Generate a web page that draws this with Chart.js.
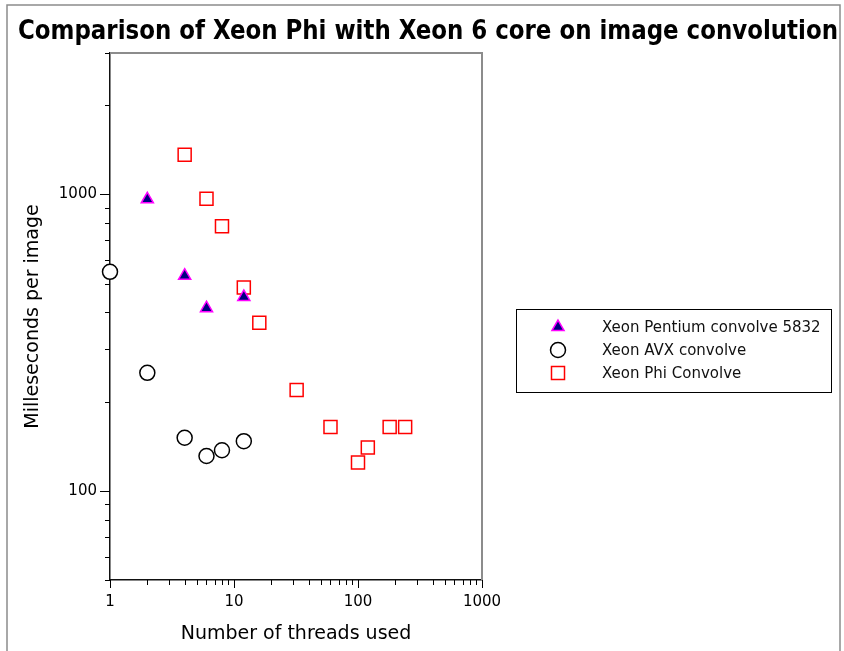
<!DOCTYPE html>
<html>
<head>
<meta charset="utf-8">
<script src="https://cdn.jsdelivr.net/npm/chart.js@4/dist/chart.umd.min.js"></script>
<style>
  html, body { margin: 0; padding: 0; background: #fff; }
  #wrap { width: 844px; height: 651px; position: relative; }
</style>
</head>
<body>
<div id="wrap"><canvas id="chart" width="844" height="651"></canvas></div>
<script>
// chart data
const titleText = "Comparison of Xeon Phi with Xeon 6 core on image convolution";
const seriesNames = ["Xeon Pentium convolve 5832", "Xeon AVX convolve", "Xeon Phi Convolve"];

const threadsPentium = [2, 4, 6, 12];
const msPentium = [963, 532, 413, 451];

const threadsAvx = [1, 2, 4, 6, 8, 12];
const msAvx = [548, 250, 151, 131, 137, 147];

const threadsPhi = [4, 6, 8, 12, 16, 32, 60, 100, 120, 180, 240];
const msPhi = [1360, 967, 781, 485, 369, 219, 164, 124.5, 140, 164, 164];

const xTicks = [1, 2, 3, 4, 5, 6, 7, 8, 9, 10, 20, 30, 40, 50, 60, 70, 80, 90,
  100, 200, 300, 400, 500, 600, 700, 800, 900, 1000];
const yTicks = [50, 60, 70, 80, 90, 100, 200, 300, 400, 500, 600, 700, 800, 900, 1000, 2000, 3000];
const majorLabels = [1, 10, 100, 1000];

const toPoints = (xs, ys) => xs.map((x, i) => ({ x: x, y: ys[i] }));

// frame, title, top/right border, tick marks and boxed legend
const decor = {
  id: "decor",
  afterDraw(chart) {
    const ctx = chart.ctx;
    const a = chart.chartArea;
    ctx.save();

    // outer frame
    ctx.strokeStyle = "#8c8c8c";
    ctx.lineWidth = 1.5;
    ctx.beginPath();
    ctx.moveTo(7, 651); ctx.lineTo(7, 5); ctx.lineTo(840, 5); ctx.lineTo(840, 651);
    ctx.stroke();

    // top and right edges of plot box
    ctx.lineWidth = 2;
    ctx.beginPath();
    ctx.moveTo(a.left, a.top); ctx.lineTo(a.right, a.top); ctx.lineTo(a.right, a.bottom);
    ctx.stroke();

    // title, squeezed into its box
    const size = 26;
    ctx.font = "bold " + size + "px 'DejaVu Sans Condensed', 'DejaVu Sans', sans-serif";
    const w = ctx.measureText(titleText).width;
    ctx.fillStyle = "#000";
    ctx.textBaseline = "alphabetic";
    ctx.textAlign = "left";
    ctx.save();
    ctx.translate(18, 39);
    ctx.scale(820 / w, 1);
    ctx.fillText(titleText, 0, 0);
    ctx.restore();

    // tick marks
    ctx.strokeStyle = "#000";
    ctx.lineWidth = 1;
    const xs = chart.scales.x, ys = chart.scales.y;
    xs.ticks.forEach(t => {
      const px = Math.round(xs.getPixelForValue(t.value)) + 0.5;
      const len = majorLabels.includes(t.value) ? 8 : 5;
      ctx.beginPath(); ctx.moveTo(px, a.bottom); ctx.lineTo(px, a.bottom + len); ctx.stroke();
    });
    ys.ticks.forEach(t => {
      const py = Math.round(ys.getPixelForValue(t.value)) + 0.5;
      const len = [100, 1000].includes(t.value) ? 10 : 5;
      ctx.beginPath(); ctx.moveTo(a.left, py); ctx.lineTo(a.left - len, py); ctx.stroke();
    });

    // legend box
    ctx.lineWidth = 1;
    ctx.strokeStyle = "#000";
    ctx.strokeRect(516.5, 309.5, 315, 83);
    const rows = [327, 350, 373];
    chart.data.datasets.forEach((ds, i) => {
      ctx.fillStyle = ds.pointBackgroundColor;
      ctx.strokeStyle = ds.pointBorderColor;
      ctx.lineWidth = ds.pointBorderWidth;
      Chart.helpers.drawPoint(ctx, {
        pointStyle: ds.pointStyle,
        radius: ds.pointRadius,
        borderWidth: ds.pointBorderWidth,
        rotation: 0
      }, 558, rows[i]);
      ctx.font = "15px 'DejaVu Sans', sans-serif";
      ctx.textBaseline = "middle";
      ctx.textAlign = "left";
      ctx.fillStyle = "#111";
      ctx.fillText(ds.label, 602, rows[i] + 1);
    });
    ctx.restore();
  }
};

new Chart(document.getElementById("chart"), {
  type: "scatter",
  data: {
    datasets: [
      {
        label: seriesNames[0],
        data: toPoints(threadsPentium, msPentium),
        pointStyle: "triangle",
        pointRadius: 7,
        pointBackgroundColor: "#000080",
        pointBorderColor: "#ff00ff",
        pointBorderWidth: 1.5,
        clip: false
      },
      {
        label: seriesNames[1],
        data: toPoints(threadsAvx, msAvx),
        pointStyle: "circle",
        pointRadius: 7.5,
        pointBackgroundColor: "#ffffff",
        pointBorderColor: "#000000",
        pointBorderWidth: 1.5,
        clip: false
      },
      {
        label: seriesNames[2],
        data: toPoints(threadsPhi, msPhi),
        pointStyle: "rect",
        pointRadius: 9.2,
        pointBackgroundColor: "#ffffff",
        pointBorderColor: "#ff0000",
        pointBorderWidth: 1.5,
        clip: false
      }
    ]
  },
  options: {
    responsive: false,
    animation: false,
    events: [],
    layout: { padding: { left: 0, top: 53, right: 362, bottom: 0 } },
    plugins: {
      legend: { display: false },
      title: { display: false },
      tooltip: { enabled: false }
    },
    scales: {
      x: {
        type: "logarithmic",
        min: 1,
        max: 1000,
        afterBuildTicks: (s) => { s.ticks = xTicks.map(v => ({ value: v })); },
        afterFit: (s) => { s.height = 71; },
        grid: { display: false, drawTicks: false },
        border: { display: true, color: "#111", width: 1.5 },
        ticks: {
          autoSkip: false,
          maxRotation: 0,
          padding: 13,
          color: "#000",
          font: { family: "'DejaVu Sans', sans-serif", size: 15 },
          callback: (v) => majorLabels.includes(v) ? String(v) : ""
        },
        title: {
          display: true,
          text: "Number of threads used",
          color: "#000",
          padding: { top: 0, bottom: 6 },
          font: { family: "'DejaVu Sans', sans-serif", size: 19 }
        }
      },
      y: {
        type: "logarithmic",
        min: 50,
        max: 3000,
        afterBuildTicks: (s) => { s.ticks = yTicks.map(v => ({ value: v })); },
        afterFit: (s) => { s.width = 110; },
        grid: { display: false, drawTicks: false },
        border: { display: true, color: "#111", width: 1.5 },
        ticks: {
          autoSkip: false,
          padding: 13,
          color: "#000",
          font: { family: "'DejaVu Sans', sans-serif", size: 15 },
          callback: (v) => [100, 1000].includes(v) ? String(v) : ""
        },
        title: {
          display: true,
          text: "Milleseconds per image",
          color: "#000",
          padding: { top: 22, bottom: 0 },
          font: { family: "'DejaVu Sans', sans-serif", size: 19 }
        }
      }
    }
  },
  plugins: [decor]
});
</script>
</body>
</html>
